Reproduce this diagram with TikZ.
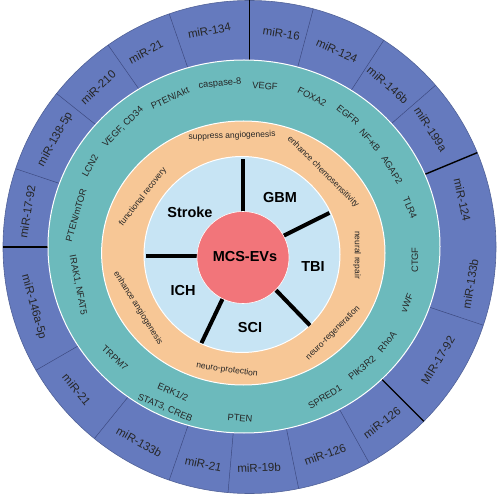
\documentclass[tikz,border=0pt]{standalone}
\usepackage{fontspec}
\setmainfont{Liberation Sans}
\definecolor{ringblue}{RGB}{101,122,190}
\definecolor{ringteal}{RGB}{108,186,188}
\definecolor{ringorange}{RGB}{247,199,150}
\definecolor{ringsky}{RGB}{199,228,244}
\definecolor{corepink}{RGB}{242,117,122}
\definecolor{sepblue}{RGB}{62,75,130}
\tikzset{
  mirlbl/.style={font=\fontsize{11.5}{12}\selectfont, text=black!85},
  genelbl/.style={font=\fontsize{9.3}{10}\selectfont, text=black!85},
  effectlbl/.style={font=\fontsize{8.5}{9}\selectfont, text=black!85},
  diseaselbl/.style={font=\bfseries\fontsize{14.5}{15}\selectfont},
  ringedge/.style={draw=white, line width=1pt}
}

\begin{document}
\begin{tikzpicture}[x=1pt,y=1pt]
\useasboundingbox (-249.5,247) rectangle (250.5,-248);
\draw[fill=ringblue, draw=ringblue!80!black, line width=0.6pt] (0,0) circle (246.5);
\foreach \a in {75,57,41,-18.5,109,125,141.5,161.5,210,231,251,265,281.5,299}
  \draw[sepblue, line width=0.5pt] (\a:170) -- (\a:246.5);
\foreach \a in {90,22.5,-45,180}
  \draw[black, line width=1.4pt] (\a:170) -- (\a:246.5);
\foreach \a/\r/\txt [count=\i] in
  {100.5/220/miR-134, 118/221/miR-21, 133.5/220/miR-210, 151/222/miR-138-5p, 171/225/miR-17-92,%
   81.5/216/miR-16, 66/215/miR-124, 49.5/213/miR-146b, 33/216/miR-199a,%
   12.5/218/miR-124, -9.5/224/miR-133b, -31/220/MIR-17-92,%
   307/220/miR-126, 290/221/miR-126, 272.5/221/miR-19b, 258/222/miR-21,%
   240.5/224/miR-133b, 219.5/224/miR-21, 195.5/224/miR-146a-5p}
  {
  \pgfmathsetmacro\rot{(\a>0 && \a<180) ? \a-90 : \a+90}
  \node[mirlbl, rotate=\rot] (mir\i) at (\a:\r) {\txt};
  }
\draw[fill=ringteal, ringedge] (-5.5,0.5) ellipse (196 and 186.5);
\foreach \x/\y/\rot/\txt [count=\i] in
  {-29.5/163/5/caspase-8, 15.5/161/-4/VEGF, 62.5/150/-27/FOXA2, 98.5/132/-39/EGFR,%
   120.5/107/-49/NF-κB, 142.5/77/-58/AGAP2, 160.5/39/-67/TLR4, 165.5/-13/90/CTGF,%
   157.5/-56/68/vWF, 137.5/-95/50/RhoA, 112.5/-121/39/PIK3R2, 75.5/-150/31/SPRED1,%
   -9.5/-171/-5/PTEN, -76.5/-145/-23/{ERK1/2}, -84.5/-161/-23/{STAT3, CREB},%
   -134.5/-111/-42/TRPM7, -171.5/-38/-79/{IRAK1, NFAT5}, -173.5/32/74/{PTEN/mTOR},%
   -159.5/81/61/LCN2, -126.5/120/45/{VEGF, CD34}, -79.5/149/25/{PTEN/Akt}}
  \node[genelbl, rotate=\rot] (gene\i) at (\x,\y) {\txt};
\draw[fill=ringorange, ringedge] (-6.2,-6) ellipse (141.7 and 132);
\node[effectlbl, rotate=2] (supang) at (-17.5,111) {suppress angiogenesis};
\node[effectlbl, rotate=-45] (chemo) at (73.5,75) {enhance chemosensitivity};
\node[effectlbl, rotate=-90] (repair) at (107.5,-8) {neural repair};
\node[effectlbl, rotate=45] (regen) at (83.5,-86) {neuro-regeneration};
\node[effectlbl, rotate=-8] (protect) at (-22.5,-123) {neuro-protection};
\node[effectlbl, rotate=-58] (enhang) at (-111.5,-61) {enhance angiogenesis};
\node[effectlbl, rotate=52] (recov) at (-106.5,50) {functional recovery};
\draw[fill=ringsky, ringedge] (-7.5,-7.5) circle (98);
\begin{scope}[shift={(-6.5,-9)}]
\foreach \a in {90,26.5,-46,244.5,180}
  \draw[black, line width=4pt] (\a:30) -- (\a:96.5);
\end{scope}
\draw[fill=corepink, draw=white, line width=0.6pt] (-6.5,-10.5) circle (46);
\node[diseaselbl] (stroke) at (-59.5,35) {Stroke};
\node[diseaselbl] (gbm) at (30.5,49) {GBM};
\node[diseaselbl] (tbi) at (63.5,-20) {TBI};
\node[diseaselbl] (sci) at (0.5,-81) {SCI};
\node[diseaselbl] (ich) at (-66.5,-44) {ICH};
\node[diseaselbl] (evs) at (-4.5,-10) {MCS-EVs};
\end{tikzpicture}
\end{document}
